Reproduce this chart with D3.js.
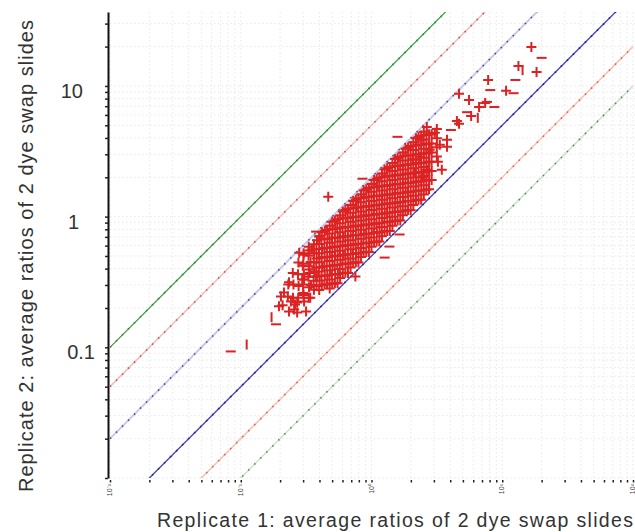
<!DOCTYPE html>
<html><head><meta charset="utf-8">
<script src="https://cdn.jsdelivr.net/npm/d3@7"></script>
<style>body{margin:0;background:#fff;} svg{display:block;}</style>
</head><body><svg id="c" width="635" height="532"></svg>
<script>
// ---- data ----
const xTickValues = [0.01, 0.1, 1, 10, 100];
const xTickLabels = ["10\u207B\u00B2", "10\u207B\u00B9", "10\u2070", "10\u00B9", "10\u00B2"];
const yTickValues = [0.1, 1, 10];
const yTickLabels = ["0.1", "1", "10"];
const foldFactors = [10, 5, 2, 0.5, 0.2, 0.1];
const xTitle = "Replicate 1: average ratios of 2 dye swap slides";
const yTitle = "Replicate 2: average ratios of 2 dye swap slides";

// genes shown as "+" : [replicate1 ratio, replicate2 ratio]
const plusPoints = [
  // top-right outliers
  [16.7,19.9],[13.3,14.2],[18.3,12.8],[7.8,11.1],[10.7,9.2],[4.67,8.7],[5.57,7.8],[7.4,7.4],
  [6.65,6.9],[5.78,5.9],[4.67,5.13],[4.5,5.4],[2.65,4.86],[3.05,4.38],[3.78,3.87],[3.33,3.55],
  [2.79,3.25],[3.78,3.42],[2.42,3.87],[2.34,2.87],[3.22,2.63],[3.45,2.28],[2.65,2.28],[2.07,2.72],
  [2.14,2.17],[2.47,1.99],[0.467,1.42],[0.753,0.348],
  // lower-left tail
  [0.203,0.245],[0.234,0.188],[0.27,0.22],[0.305,0.224],[0.196,0.206],[0.242,0.224],[0.26,0.213],
  [0.234,0.314],[0.214,0.263],[0.295,0.33],[0.377,0.348],[0.334,0.394],[0.28,0.53],[0.35,0.56],
  [0.398,0.704],[0.316,0.188],[0.256,0.195],[0.27,0.185],
  [0.34,0.24],[0.345,0.30],[0.338,0.37],[0.342,0.45],[0.336,0.55],
  [0.30,0.26],[0.305,0.33],[0.298,0.42],[0.302,0.51],
  [0.363,0.276],[0.361,0.323],[0.365,0.380],[0.362,0.446],[0.364,0.525],[0.363,0.616],
  [0.331,0.240],[0.333,0.288],[0.329,0.347],[0.332,0.417],[0.330,0.501],[0.331,0.589],
  [0.302,0.251],[0.300,0.302],[0.304,0.363],[0.301,0.436],[0.303,0.525],
  [0.275,0.240],[0.277,0.295],[0.274,0.362],[0.276,0.446],
  [0.251,0.240],[0.253,0.302],[0.250,0.371],
  [0.229,0.245],[0.231,0.302],[0.209,0.210],
  // main cloud
  [0.380,0.295],[0.382,0.347],[0.378,0.407],[0.381,0.478],[0.379,0.562],[0.383,0.660],
  [0.398,0.275],[0.400,0.324],[0.396,0.380],[0.399,0.447],[0.397,0.525],[0.398,0.617],[0.401,0.708],
  [0.417,0.299],[0.415,0.351],[0.419,0.412],[0.416,0.484],[0.418,0.569],[0.414,0.668],[0.417,0.759],
  [0.437,0.302],[0.439,0.355],[0.435,0.417],[0.438,0.490],[0.436,0.576],[0.437,0.677],[0.440,0.777],
  [0.457,0.302],[0.459,0.355],[0.455,0.417],[0.458,0.490],[0.456,0.575],[0.460,0.676],[0.457,0.794],
  [0.479,0.282],[0.477,0.331],[0.481,0.389],[0.478,0.457],[0.480,0.537],[0.479,0.631],[0.476,0.742],[0.479,0.852],
  [0.501,0.306],[0.498,0.359],[0.503,0.421],[0.500,0.496],[0.502,0.582],[0.499,0.684],[0.504,0.803],[0.501,0.912],
  [0.525,0.309],[0.527,0.363],[0.523,0.427],[0.526,0.501],[0.524,0.589],[0.525,0.692],[0.528,0.813],[0.525,0.933],
  [0.550,0.309],[0.553,0.364],[0.548,0.427],[0.551,0.502],[0.549,0.590],[0.552,0.692],[0.547,0.813],[0.550,0.956],
  [0.575,0.339],[0.573,0.398],[0.577,0.467],[0.574,0.549],[0.576,0.645],[0.575,0.758],[0.572,0.891],[0.575,1.022],
  [0.603,0.368],[0.600,0.432],[0.605,0.507],[0.602,0.596],[0.606,0.700],[0.601,0.823],[0.604,0.967],[0.603,1.097],
  [0.631,0.372],[0.633,0.437],[0.629,0.513],[0.632,0.603],[0.630,0.708],[0.631,0.832],[0.634,0.977],[0.631,1.122],
  [0.661,0.371],[0.664,0.437],[0.659,0.513],[0.662,0.603],[0.660,0.709],[0.663,0.832],[0.658,0.978],[0.661,1.149],
  [0.692,0.408],[0.690,0.479],[0.694,0.563],[0.691,0.661],[0.693,0.776],[0.692,0.912],[0.689,1.072],[0.692,1.230],
  [0.724,0.442],[0.721,0.518],[0.726,0.609],[0.723,0.716],[0.725,0.841],[0.722,0.988],[0.727,1.161],[0.724,1.318],
  [0.759,0.447],[0.761,0.525],[0.757,0.617],[0.760,0.725],[0.758,0.852],[0.759,1.000],[0.762,1.176],[0.759,1.349],
  [0.794,0.446],[0.797,0.525],[0.792,0.616],[0.795,0.724],[0.793,0.851],[0.796,1.000],[0.791,1.174],[0.794,1.380],
  [0.832,0.490],[0.830,0.576],[0.834,0.676],[0.831,0.795],[0.833,0.934],[0.832,1.097],[0.829,1.289],[0.832,1.479],
  [0.871,0.531],[0.868,0.624],[0.874,0.733],[0.870,0.861],[0.872,1.011],[0.869,1.189],[0.873,1.396],[0.871,1.585],
  [0.912,0.537],[0.914,0.631],[0.910,0.741],[0.913,0.871],[0.911,1.023],[0.912,1.202],[0.915,1.413],[0.912,1.622],
  [0.955,0.537],[0.958,0.631],[0.952,0.741],[0.956,0.871],[0.954,1.024],[0.957,1.202],[0.953,1.412],[0.955,1.660],
  [1.000,0.589],[0.997,0.692],[1.003,0.813],[0.999,0.955],[1.001,1.122],[1.000,1.318],[0.998,1.549],[1.000,1.778],
  [1.047,0.639],[1.044,0.750],[1.050,0.881],[1.046,1.035],[1.048,1.216],[1.045,1.429],[1.049,1.678],[1.047,1.906],
  [1.096,0.646],[1.099,0.758],[1.093,0.891],[1.097,1.047],[1.095,1.230],[1.096,1.444],[1.100,1.698],[1.096,1.949],
  [1.148,0.645],[1.151,0.759],[1.146,0.891],[1.149,1.047],[1.147,1.231],[1.150,1.445],[1.145,1.698],[1.148,1.995],
  [1.202,0.708],[1.199,0.832],[1.205,0.977],[1.201,1.148],[1.203,1.349],[1.202,1.584],[1.198,1.862],[1.202,2.137],
  [1.259,0.768],[1.256,0.901],[1.262,1.059],[1.258,1.245],[1.260,1.462],[1.257,1.719],[1.261,2.018],[1.259,2.291],
  [1.318,0.776],[1.321,0.912],[1.315,1.072],[1.319,1.259],[1.317,1.479],[1.318,1.737],[1.322,2.042],[1.318,2.343],
  [1.380,0.776],[1.383,0.912],[1.377,1.071],[1.381,1.259],[1.379,1.479],[1.382,1.737],[1.378,2.041],[1.380,2.398],
  [1.445,0.851],[1.442,1.000],[1.448,1.175],[1.444,1.380],[1.446,1.621],[1.445,1.905],[1.441,2.238],[1.445,2.569],
  [1.514,0.924],[1.511,1.084],[1.517,1.273],[1.513,1.497],[1.515,1.758],[1.512,2.067],[1.516,2.427],[1.514,2.755],
  [1.585,0.934],[1.588,1.097],[1.582,1.289],[1.586,1.514],[1.584,1.778],[1.585,2.089],[1.589,2.455],[1.585,2.818],
  [1.660,0.933],[1.663,1.097],[1.657,1.288],[1.661,1.514],[1.659,1.780],[1.662,2.090],[1.658,2.455],[1.660,2.885],
  [1.738,1.024],[1.735,1.203],[1.741,1.413],[1.737,1.660],[1.739,1.950],[1.738,2.291],[1.734,2.692],[1.738,3.090],
  [1.820,1.110],[1.817,1.303],[1.823,1.531],[1.819,1.800],[1.821,2.113],[1.818,2.484],[1.822,2.917],[1.820,3.312],
  [1.905,1.122],[1.908,1.318],[1.902,1.549],[1.906,1.819],[1.904,2.137],[1.905,2.511],[1.909,2.951],[1.905,3.387],
  [1.995,1.121],[1.998,1.319],[1.992,1.548],[1.996,1.819],[1.994,2.139],[1.997,2.512],[1.993,2.951],[1.995,3.467],
  [2.089,1.230],[2.086,1.446],[2.092,1.698],[2.088,1.995],[2.090,2.344],[2.089,2.753],[2.085,3.236],[2.089,3.714],
  [2.188,1.335],[2.185,1.567],[2.191,1.840],[2.187,2.164],[2.189,2.540],[2.186,2.987],[2.190,3.507],[2.188,3.982],
  [2.291,1.349],[2.294,1.585],[2.288,1.863],[2.292,2.188],[2.290,2.570],[2.291,3.020],[2.295,3.549],[2.291,4.073],
  [2.399,1.348],[2.402,1.586],[2.396,1.862],[2.400,2.188],[2.398,2.572],[2.401,3.020],[2.397,3.548],[2.399,4.169],
  [2.512,1.480],[2.509,1.738],[2.515,2.042],[2.511,2.399],[2.513,2.818],[2.512,3.311],[2.508,3.891],[2.512,4.466],
  [2.630,1.604],[2.627,1.883],[2.633,2.212],[2.629,2.601],[2.631,3.053],[2.628,3.590],[2.632,4.216],
  [2.754,1.622],[2.757,1.906],[2.751,2.239],[2.755,2.630],[2.753,3.090],[2.754,3.630],[2.758,4.266],
  [2.884,1.906],[2.887,2.238],[2.881,2.630],[2.885,3.092],[2.883,3.631],[2.886,4.265],
  [3.162,2.884],[3.159,3.390],[3.165,3.981],[3.161,4.677]
];
// genes shown as "-"
const dashPoints = [
  [20.0,16.4],[12.6,11.1],[8.1,9.3],[12.2,8.8],[8.7,6.9],[7.65,7.55],[5.38,6.3],[1.58,4.08],
  [4.05,4.6],[0.853,1.95],[0.377,0.768],[1.26,0.486],[1.64,0.73],[1.37,0.59],[0.0838,0.093],[0.186,0.15]
];
// genes shown as "|"
const barPoints = [
  [14.3,13.2],[6.5,5.7],[0.111,0.105],[0.172,0.17]
];

// ---- chart ----
const svg = d3.select("#c");
const W = 635, H = 532;
const pL = 110, pR = 633, pT = 12, pB = 478;
const x = d3.scaleLog().domain([0.01, 100]).range([pL, pR]);
const y = d3.scaleLog().domain([0.01, 36.8]).range([pB, pT]);

svg.append("defs").append("clipPath").attr("id", "plot")
  .append("rect").attr("x", pL).attr("y", pT).attr("width", pR - pL + 2).attr("height", pB - pT);

// grid
const grid = svg.append("g");
grid.selectAll("line.gx").data(x.ticks()).enter().append("line")
  .attr("x1", d => x(d)).attr("x2", d => x(d)).attr("y1", pT).attr("y2", pB)
  .attr("stroke", "#ebe6eb").attr("stroke-width", 1).attr("stroke-dasharray", "1.5,2.5");
grid.selectAll("line.gy").data(y.ticks()).enter().append("line")
  .attr("y1", d => y(d)).attr("y2", d => y(d)).attr("x1", pL).attr("x2", W)
  .attr("stroke", "#ebe6eb").attr("stroke-width", 1).attr("stroke-dasharray", "1.5,2.5");

// fold-change lines
const lineStyles = {
  10:  {base: "#3f9f3f", bw: 1.3, dot: "#2f8f2f"},
  5:   {base: "#f3bcbc", bw: 1.5, dot: "#e04848"},
  2:   {base: "#c9c9ea", bw: 2,   dot: "#4848aa"},
  0.5: {base: "#4a4ab4", bw: 1.4, dot: "#25258a"},
  0.2: {base: "#f3c4b8", bw: 1.5, dot: "#e86040"},
  0.1: {base: "#d3dcd3", bw: 1.5, dot: "#3a9e3a"}
};
const lg = svg.append("g").attr("clip-path", "url(#plot)");
const xd = x.domain();
foldFactors.forEach(k => {
  const s = lineStyles[k];
  const seg = [[xd[0], xd[0] * k], [xd[1], xd[1] * k]];
  const gen = d3.line().x(d => x(d[0])).y(d => y(d[1]));
  lg.append("path").attr("d", gen(seg)).attr("fill", "none")
    .attr("stroke", s.base).attr("stroke-width", s.bw);
  lg.append("path").attr("d", gen(seg)).attr("fill", "none")
    .attr("stroke", s.dot).attr("stroke-width", 1.6).attr("stroke-dasharray", "1.5,7");
});

// points
const red = "#dc2222";
const pg = svg.append("g").attr("clip-path", "url(#plot)").attr("stroke", red).attr("stroke-width", 2).attr("fill", "none");
pg.selectAll("path.p").data(plusPoints).enter().append("path")
  .attr("d", d => `M${x(d[0]) - 5},${y(d[1])}h10M${x(d[0])},${y(d[1]) - 5}v10`);
pg.selectAll("path.m").data(dashPoints).enter().append("path")
  .attr("d", d => `M${x(d[0]) - 5},${y(d[1])}h10`);
pg.selectAll("path.b").data(barPoints).enter().append("path")
  .attr("d", d => `M${x(d[0])},${y(d[1]) - 5}v10`);

// y axis
const ya = svg.append("g").attr("transform", `translate(${pL - 2},0)`)
  .call(d3.axisLeft(y).tickValues(y.ticks()).tickSize(3).tickSizeOuter(0).tickFormat(""));
ya.select(".domain").attr("stroke", "#111").attr("stroke-width", 2);
ya.selectAll(".tick line").attr("stroke", "#222").attr("stroke-width", 1.5);
const yLabelEnd = {"0.1": 95, "1": 79, "10": 83};
svg.append("g").selectAll("text").data(yTickValues).enter().append("text")
  .attr("x", (d, i) => yLabelEnd[yTickLabels[i]])
  .attr("y", d => y(d) + 12)
  .attr("text-anchor", "end")
  .attr("font-family", "Liberation Sans, Arial, sans-serif")
  .attr("font-size", 20).attr("fill", "#333")
  .text((d, i) => yTickLabels[i]);

// x axis (ticks only)
const xa = svg.append("g").attr("transform", `translate(0,${pB + 2})`)
  .call(d3.axisBottom(x).tickValues(x.ticks()).tickSize(2.5).tickSizeOuter(0).tickFormat(""));
xa.select(".domain").remove();
xa.selectAll(".tick line").attr("stroke", "#222").attr("stroke-width", 1.5);
svg.append("g").selectAll("text").data(xTickValues).enter().append("text")
  .attr("transform", d => `translate(${x(d) + 2},${pB + 6}) rotate(-90)`)
  .attr("text-anchor", "end")
  .attr("font-family", "Liberation Sans, Arial, sans-serif")
  .attr("font-size", 7).attr("fill", "#444")
  .text((d, i) => xTickLabels[i]);

// titles
svg.append("text").attr("x", 157).attr("y", 527)
  .attr("font-family", "Liberation Sans, Arial, sans-serif").attr("font-size", 19.5).attr("fill", "#333")
  .attr("textLength", 476).attr("lengthAdjust", "spacing").text(xTitle);
svg.append("text").attr("transform", "translate(33,492) rotate(-90)")
  .attr("font-family", "Liberation Sans, Arial, sans-serif").attr("font-size", 20).attr("fill", "#333")
  .attr("textLength", 472).attr("lengthAdjust", "spacing").text(yTitle);
</script></body></html>
